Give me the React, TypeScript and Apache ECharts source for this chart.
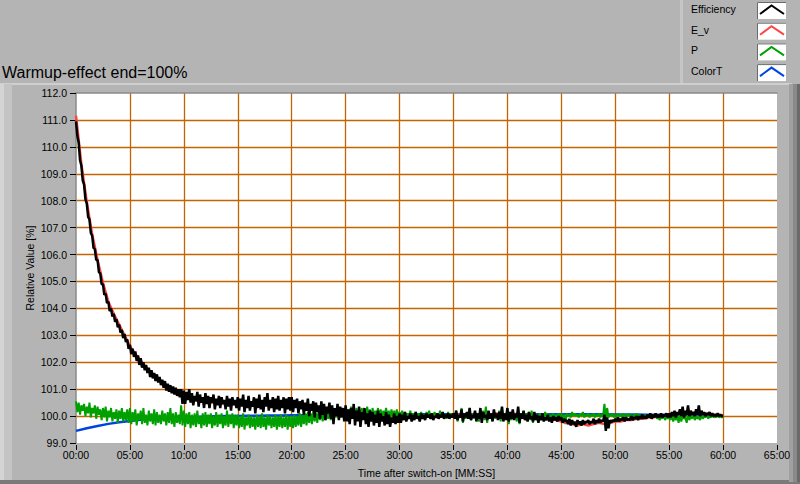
import React, { useEffect, useRef } from "react";
import * as echarts from "echarts";

const TITLE = "Warmup-effect end=100%";
const X_NAME = "Time after switch-on [MM:SS]";
const Y_NAME = "Relative Value [%]";
const LEGEND_NAMES = ["Efficiency", "E_v", "P", "ColorT"];
const COLORS = ["#000000", "#ff4444", "#00a000", "#0044e0"];
const X_MIN = 0;
const X_MAX = 65;
const X_INTERVAL = 5;
const Y_MIN = 99;
const Y_MAX = 112;
const Y_INTERVAL = 1;

// minutes between samples for each series
const EFF_STEP = 0.125;
const EV_STEP = 0.5;
const P_STEP = 0.125;
const COLORT_STEP = 1;

const efficiency = [
  110.95, 110.4, 110.15, 109.5, 109.3, 108.75, 108.6, 108.05, 107.9, 107.4,
  107.3, 106.8, 106.7, 106.25, 106.2, 105.8, 105.8, 105.35, 105.3, 104.9,
  104.9, 104.5, 104.55, 104.2, 104.25, 103.9, 104.0, 103.7, 103.8, 103.5,
  103.6, 103.3, 103.4, 103.1, 103.2, 102.9, 103.05, 102.75, 102.85, 102.5,

  102.65, 102.3, 102.5, 102.2, 102.4, 102.05, 102.25, 101.9, 102.15, 101.8,
  102.0, 101.7, 101.9, 101.6, 101.8, 101.45, 101.7, 101.4, 101.6, 101.3,
  101.55, 101.25, 101.45, 101.15, 101.35, 101.05, 101.3, 100.95, 101.2, 100.9,
  101.15, 100.85, 101.1, 100.8, 101.05, 100.75, 101.0, 100.7, 101.0, 100.45,

  100.95, 100.45, 100.9, 100.6, 101.0, 100.5, 100.85, 100.4, 100.75, 100.55,
  100.9, 100.35, 100.8, 100.5, 100.7, 100.3, 100.85, 100.45, 100.75, 100.3,
  100.7, 100.5, 100.8, 100.25, 100.65, 100.4, 100.75, 100.3, 100.7, 100.45,
  100.6, 100.25, 100.75, 100.35, 100.65, 100.2, 100.7, 100.4, 100.6, 100.3,

  100.7, 100.2, 100.65, 100.35, 100.8, 100.15, 100.6, 100.3, 100.75, 100.2,
  100.55, 100.35, 100.7, 100.1, 100.65, 100.3, 100.8, 100.25, 100.6, 100.15,
  100.7, 100.35, 100.85, 100.2, 100.6, 100.3, 100.7, 100.15, 100.65, 100.25,
  100.75, 100.2, 100.6, 100.3, 100.7, 100.1, 100.65, 100.25, 100.7, 100.2,

  100.7, 100.15, 100.6, 100.3, 100.65, 100.1, 100.55, 100.25, 100.6, 100.05,
  100.5, 100.2, 100.65, 100.0, 100.45, 100.2, 100.55, 99.95, 100.5, 100.15,
  100.4, 99.9, 100.55, 100.05, 100.45, 99.85, 100.35, 100.1, 100.5, 99.9,
  100.4, 99.7, 100.3, 100.0, 100.45, 99.85, 100.35, 99.95, 100.3, 99.8,

  100.4, 99.8, 100.25, 99.7, 100.3, 99.9, 100.45, 99.65, 100.2, 99.8,
  100.35, 99.6, 100.15, 99.85, 100.3, 99.7, 100.1, 99.6, 100.2, 99.8,
  100.15, 99.65, 100.05, 99.75, 100.2, 99.6, 100.1, 99.8, 100.0, 99.65,
  100.15, 99.7, 100.05, 99.6, 99.95, 99.75, 100.1, 99.7, 100.0, 99.75,

  100.1, 99.75, 100.05, 99.85, 100.15, 99.8, 100.0, 99.9, 100.1, 99.8,
  100.05, 99.85, 100.15, 99.9, 100.0, 99.8, 100.1, 99.9, 100.05, 99.85,
  100.1, 99.95, 100.05, 99.9, 100.1, 99.85, 100.0, 99.95, 100.1, 99.9,
  100.05, 99.95, 100.15, 99.9, 100.05, 99.95, 100.1, 99.9, 100.05, 99.95,

  100.1, 99.9, 100.2, 99.85, 100.05, 99.95, 100.25, 99.8, 100.1, 99.95,
  100.15, 99.9, 100.3, 99.85, 100.05, 99.95, 100.2, 99.8, 100.1, 99.9,
  100.3, 99.75, 100.15, 99.95, 100.05, 99.85, 100.2, 99.9, 100.1, 99.8,
  100.25, 99.95, 100.1, 99.85, 100.15, 99.9, 100.35, 99.8, 100.1, 99.85,

  100.3, 99.8, 100.15, 99.9, 100.25, 99.85, 100.1, 99.95, 100.35, 99.75,
  100.1, 99.9, 100.2, 99.85, 100.05, 99.8, 100.15, 99.9, 100.0, 99.8,
  100.15, 99.85, 100.05, 99.75, 100.0, 99.85, 100.1, 99.8, 99.95, 99.85,
  100.05, 99.8, 99.95, 99.75, 100.0, 99.85, 99.95, 99.8, 100.0, 99.85,

  99.95, 99.75, 99.9, 99.8, 99.85, 99.7, 99.9, 99.65, 99.85, 99.7,
  99.8, 99.6, 99.85, 99.7, 99.8, 99.65, 99.85, 99.7, 99.8, 99.75,
  99.85, 99.7, 99.8, 99.75, 99.9, 99.7, 99.85, 99.75, 99.9, 99.75,
  99.85, 99.8, 100.05, 99.45, 99.95, 99.55, 99.85, 99.75, 99.85, 99.8,

  99.9, 99.8, 99.95, 99.8, 99.9, 99.85, 99.95, 99.8, 99.95, 99.85,
  99.9, 99.85, 100.0, 99.85, 99.95, 99.9, 100.0, 99.85, 100.0, 99.9,
  100.05, 99.9, 100.0, 99.9, 100.05, 99.95, 100.1, 99.9, 100.05, 99.95,
  100.1, 99.95, 100.05, 99.95, 100.1, 99.95, 100.05, 100.0, 100.1, 99.95,

  100.1, 99.95, 100.15, 100.0, 100.2, 99.95, 100.15, 100.05, 100.25, 100.0,
  100.35, 99.95, 100.2, 100.05, 100.4, 100.0, 100.2, 100.05, 100.15, 100.0,
  100.25, 100.05, 100.4, 100.0, 100.2, 100.05, 100.15, 100.0, 100.1, 100.05,
  100.15, 100.0, 100.1, 100.0, 100.05, 100.0, 100.1, 100.0, 100.05, 100.0,

  100.0,
];

const eV = [
  111.15, 109.35, 107.95, 106.75, 105.8, 104.95, 104.25, 103.8, 103.4, 103.0,
  102.6, 102.3, 102.05, 101.8, 101.6, 101.45, 101.25, 101.1, 101.0, 100.85,
  100.7, 100.65, 100.6, 100.55, 100.55, 100.5, 100.5, 100.45, 100.5, 100.45,
  100.45, 100.4, 100.45, 100.4, 100.4, 100.45, 100.4, 100.4, 100.35, 100.4,
  100.4, 100.35, 100.35, 100.3, 100.3, 100.25, 100.2, 100.2, 100.15, 100.1,
  100.05, 100.05, 100.0, 99.95, 99.95, 99.9, 99.9, 99.85, 99.9, 99.85,
  99.9, 99.9, 99.95, 99.95, 99.95, 100.0, 100.0, 99.95, 100.0, 100.0,
  100.0, 100.05, 100.0, 100.05, 100.0, 100.05, 100.0, 100.05, 100.1, 100.05,
  100.05, 100.1, 100.05, 100.0, 100.0, 99.95, 99.95, 99.9, 99.9, 99.85,
  99.8, 99.75, 99.7, 99.65, 99.7, 99.65, 99.7, 99.75, 99.7, 99.75,
  99.8, 99.8, 99.85, 99.85, 99.9, 99.9, 99.95, 99.95, 100.0, 100.0,
  100.05, 100.05, 100.1, 100.1, 100.1, 100.15, 100.1, 100.1, 100.05, 100.05,
  100.0,
];

const power = [
  100.55, 100.15, 100.5, 100.05, 100.4, 100.2, 100.45, 100.0, 100.35, 100.1,
  100.5, 99.95, 100.3, 100.1, 100.4, 99.9, 100.35, 100.05, 100.25, 99.85,
  100.3, 99.95, 100.35, 99.8, 100.2, 99.95, 100.3, 99.8, 100.15, 99.9,
  100.25, 99.75, 100.2, 99.9, 100.3, 99.8, 100.15, 99.85, 100.25, 99.75,

  100.3, 99.7, 100.15, 99.8, 100.25, 99.65, 100.1, 99.85, 100.2, 99.7,
  100.3, 99.75, 100.05, 99.65, 100.2, 99.8, 100.1, 99.7, 100.25, 99.65,
  100.15, 99.75, 100.05, 99.7, 100.2, 99.8, 100.1, 99.65, 100.15, 99.75,
  100.3, 99.7, 100.1, 99.6, 100.15, 99.75, 100.05, 99.7, 100.4, 99.65,

  100.2, 99.6, 100.1, 99.7, 100.15, 99.55, 100.05, 99.65, 100.1, 99.6,
  100.2, 99.7, 100.0, 99.55, 100.1, 99.65, 100.15, 99.6, 100.05, 99.7,
  100.1, 99.55, 100.0, 99.65, 100.15, 99.6, 100.05, 99.7, 100.1, 99.55,
  100.0, 99.65, 100.2, 99.6, 100.05, 99.7, 100.1, 99.55, 100.05, 99.65,

  100.05, 99.55, 100.0, 99.6, 100.1, 99.5, 99.95, 99.65, 100.05, 99.55,
  100.0, 99.6, 99.95, 99.5, 100.05, 99.6, 100.0, 99.55, 100.1, 99.6,
  99.95, 99.5, 100.05, 99.65, 100.0, 99.55, 99.95, 99.6, 100.05, 99.5,
  100.0, 99.6, 100.05, 99.55, 99.95, 99.6, 100.05, 99.5, 100.0, 99.6,

  100.0, 99.55, 100.05, 99.6, 100.0, 99.65, 100.1, 99.6, 100.05, 99.7,
  100.1, 99.65, 100.15, 99.75, 100.1, 99.7, 100.2, 99.8, 100.1, 99.75,
  100.2, 99.85, 100.15, 99.8, 100.25, 99.85, 100.2, 99.9, 100.25, 99.85,
  100.3, 99.9, 100.2, 99.95, 100.3, 99.9, 100.25, 99.95, 100.3, 99.9,

  100.3, 99.95, 100.25, 99.9, 100.35, 100.0, 100.2, 99.9, 100.3, 99.95,
  100.25, 100.0, 100.3, 99.9, 100.2, 99.95, 100.35, 100.0, 100.25, 99.9,
  100.3, 99.95, 100.2, 100.0, 100.3, 99.9, 100.25, 99.95, 100.2, 100.0,
  100.3, 99.95, 100.2, 99.9, 100.25, 100.0, 100.2, 99.95, 100.25, 99.95,

  100.15, 99.95, 100.2, 99.9, 100.15, 100.0, 100.1, 99.95, 100.2, 99.9,
  100.1, 100.0, 100.15, 99.95, 100.1, 99.9, 100.15, 100.0, 100.05, 99.95,
  100.15, 99.95, 100.2, 99.9, 100.1, 100.0, 100.15, 99.95, 100.1, 99.9,
  100.2, 100.0, 100.1, 99.95, 100.05, 99.9, 100.15, 100.0, 100.1, 99.95,

  100.1, 99.9, 100.2, 99.8, 100.05, 99.95, 100.3, 99.75, 100.1, 99.9,
  100.05, 99.95, 100.25, 99.85, 100.1, 99.9, 100.15, 99.95, 100.1, 99.8,
  100.05, 99.9, 100.2, 99.85, 100.35, 99.75, 100.1, 99.95, 100.05, 99.85,
  100.15, 99.9, 100.1, 99.95, 100.2, 99.8, 100.3, 99.85, 100.05, 99.9,

  100.3, 99.7, 100.15, 99.85, 100.1, 99.95, 100.05, 99.8, 100.25, 99.7,
  100.1, 99.9, 100.05, 99.95, 100.1, 99.9, 100.15, 99.85, 100.2, 99.75,
  100.1, 99.95, 100.05, 99.85, 100.1, 100.0, 100.05, 99.9, 100.15, 99.95,
  100.1, 99.85, 100.05, 99.95, 100.1, 99.9, 100.05, 99.95, 100.1, 99.9,

  100.1, 99.95, 100.05, 99.7, 100.1, 100.0, 100.05, 99.95, 100.15, 100.0,
  100.1, 100.0, 100.05, 99.95, 100.1, 100.0, 100.15, 99.95, 100.05, 100.0,
  100.1, 99.95, 100.05, 100.0, 100.1, 99.95, 100.05, 100.0, 100.1, 99.95,
  100.05, 100.0, 100.45, 99.9, 100.3, 99.95, 100.05, 100.0, 100.1, 99.95,

  100.05, 99.95, 100.1, 100.0, 100.05, 99.95, 100.1, 99.95, 100.05, 100.0,
  100.1, 99.95, 100.05, 99.9, 100.05, 100.0, 100.1, 99.95, 100.05, 99.9,
  100.0, 99.95, 100.05, 99.9, 100.0, 99.95, 100.05, 99.9, 100.0, 99.95,
  100.05, 99.9, 99.95, 99.85, 100.0, 99.9, 100.05, 99.85, 100.0, 99.9,

  100.0, 99.85, 100.05, 99.8, 99.95, 99.85, 100.0, 99.75, 100.05, 99.8,
  100.0, 99.9, 99.95, 99.75, 100.05, 99.85, 100.0, 99.9, 100.05, 99.85,
  100.0, 99.9, 99.95, 99.85, 100.05, 99.9, 100.0, 99.95, 100.05, 99.9,
  100.0, 99.95, 100.05, 99.95, 100.0, 99.95, 100.05, 99.95, 100.0, 99.95,

  100.0,
];

const colorT = [
  99.45, 99.55, 99.63, 99.71, 99.77, 99.82, 99.86, 99.89, 99.92, 99.94,
  99.96, 99.97, 99.98, 99.99, 100.0, 100.0, 100.01, 100.01, 100.02, 100.02,
  100.03, 100.03, 100.04, 100.04, 100.05, 100.05, 100.05, 100.06, 100.06, 100.06,
  100.07, 100.07, 100.07, 100.07, 100.07, 100.07, 100.07, 100.07, 100.07, 100.07,
  100.07, 100.07, 100.07, 100.07, 100.07, 100.07, 100.07, 100.07, 100.07, 100.07,
  100.06, 100.06, 100.06, 100.05, 100.05, 100.05, 100.05, 100.04, 100.04, 100.04,
  100.03,
];

const toPairs = (vals: number[], step: number) => vals.map((v, i) => [i * step, v]);

const BG = "#b4b4b4";
const GRID_COLOR = "#c46400";
const FONT = "Liberation Sans, Arial, sans-serif";

export default function App() {
  const ref = useRef<HTMLDivElement>(null);
  useEffect(() => {
    if (!ref.current) return;
    const chart = echarts.init(ref.current, undefined, { renderer: "svg" });

    const legendGraphics: any[] = [];
    LEGEND_NAMES.forEach((name, i) => {
      const y = 2 + i * 20.7;
      legendGraphics.push({
        type: "text",
        left: 691,
        top: y + 1.5,
        style: { text: name, font: `10.5px ${FONT}`, fill: "#000" },
        z: 10,
      });
      legendGraphics.push({
        type: "rect",
        shape: { x: 757, y: y, width: 29, height: 17 },
        style: { fill: "#ffffff", stroke: null },
        z: 10,
      });
      legendGraphics.push({
        type: "polyline",
        shape: { points: [[757.5, y + 17], [757.5, y + 0.5], [786, y + 0.5]] },
        style: { stroke: "#6a6a6a", lineWidth: 1, fill: null },
        z: 11,
      });
      legendGraphics.push({
        type: "polyline",
        shape: { points: [[760, y + 12], [771.5, y + 3.5], [784, y + 12]] },
        style: { stroke: COLORS[i], lineWidth: 2, fill: null },
        z: 11,
      });
    });

    const option: any = {
      animation: false,
      backgroundColor: BG,
      textStyle: { fontFamily: FONT },
      grid: {
        left: 76,
        top: 93,
        right: 23,
        bottom: 41,
        show: true,
        backgroundColor: "#ffffff",
        borderWidth: 0,
        containLabel: false,
      },
      xAxis: [
        {
          type: "value",
          min: X_MIN,
          max: X_MAX,
          interval: X_INTERVAL,
          offset: 2,
          name: X_NAME,
          nameLocation: "middle",
          nameGap: 22,
          nameMoveOverlap: false,
          nameTextStyle: { fontSize: 10.5, color: "#000", fontFamily: FONT },
          axisLine: { show: false },
          axisTick: { show: true, length: 5, lineStyle: { color: "#000" } },
          axisLabel: {
            fontSize: 10.5,
            color: "#000",
            margin: 4,
            fontFamily: FONT,
            formatter: (v: number) => String(v).padStart(2, "0") + ":00",
          },
          splitLine: {
            show: true,
            showMinLine: false,
            showMaxLine: false,
            lineStyle: { color: GRID_COLOR, width: 1.3 },
          },
        },
        {
          type: "value",
          position: "top",
          min: X_MIN,
          max: X_MAX,
          interval: X_INTERVAL,
          axisLine: { show: true, onZero: false, lineStyle: { color: "#8a8a8a", width: 1.5 } },
          axisTick: { show: false },
          axisLabel: { show: false },
          splitLine: { show: false },
        },
      ],
      yAxis: {
        type: "value",
        min: Y_MIN,
        max: Y_MAX,
        interval: Y_INTERVAL,
        name: Y_NAME,
        nameLocation: "middle",
        nameGap: 41,
        nameMoveOverlap: false,
        nameTextStyle: { fontSize: 10.5, color: "#000", fontFamily: FONT },
        axisLine: { show: true, lineStyle: { color: "#8a8a8a", width: 1.5 } },
        axisTick: { show: true, length: 6, lineStyle: { color: "#000" } },
        axisLabel: {
          fontSize: 10.5,
          color: "#000",
          margin: 9,
          fontFamily: FONT,
          formatter: (v: number) => v.toFixed(1),
        },
        splitLine: {
          show: true,
          showMinLine: false,
          showMaxLine: false,
          lineStyle: { color: GRID_COLOR, width: 1.3 },
        },
      },
      graphic: [
        { type: "rect", shape: { x: 0, y: 83, width: 792, height: 2 }, style: { fill: "#cfcfcf" }, z: 0 },
        { type: "rect", shape: { x: 0, y: 84, width: 4, height: 398 }, style: { fill: "#d4d4d4" }, z: 0 },
        { type: "rect", shape: { x: 4, y: 84, width: 8, height: 398 }, style: { fill: "#c4c4c4" }, z: 0 },
        { type: "rect", shape: { x: 0, y: 480, width: 800, height: 4 }, style: { fill: "#7a7a7a" }, z: 0 },
        { type: "rect", shape: { x: 789, y: 84, width: 4, height: 398 }, style: { fill: "#a0a0a0" }, z: 0 },
        { type: "rect", shape: { x: 793, y: 84, width: 4, height: 398 }, style: { fill: "#8a8a8a" }, z: 0 },
        { type: "rect", shape: { x: 797, y: 84, width: 3, height: 398 }, style: { fill: "#6a6a6a" }, z: 0 },
        { type: "rect", shape: { x: 680, y: 0, width: 3, height: 83 }, style: { fill: "#c6c6c6" }, z: 0 },
        {
          type: "text",
          left: 2,
          top: 64,
          style: { text: TITLE, font: `16px ${FONT}`, fill: "#000" },
          z: 10,
        },
        ...legendGraphics,
      ],
      series: [
        {
          name: "ColorT",
          type: "line",
          data: toPairs(colorT, COLORT_STEP),
          showSymbol: false,
          lineStyle: { color: COLORS[3], width: 2.5 },
          z: 2,
        },
        {
          name: "P",
          type: "line",
          data: toPairs(power, P_STEP),
          showSymbol: false,
          lineStyle: { color: COLORS[2], width: 2 },
          z: 3,
        },
        {
          name: "E_v",
          type: "line",
          data: toPairs(eV, EV_STEP),
          showSymbol: false,
          lineStyle: { color: COLORS[1], width: 2.5 },
          z: 4,
        },
        {
          name: "Efficiency",
          type: "line",
          data: toPairs(efficiency, EFF_STEP),
          showSymbol: false,
          lineStyle: { color: COLORS[0], width: 2.5 },
          z: 5,
        },
      ],
    };
    chart.setOption(option);
    return () => chart.dispose();
  }, []);
  return (
    <div
      ref={ref}
      style={{ position: "fixed", left: 0, top: 0, width: 800, height: 484 }}
    />
  );
}
